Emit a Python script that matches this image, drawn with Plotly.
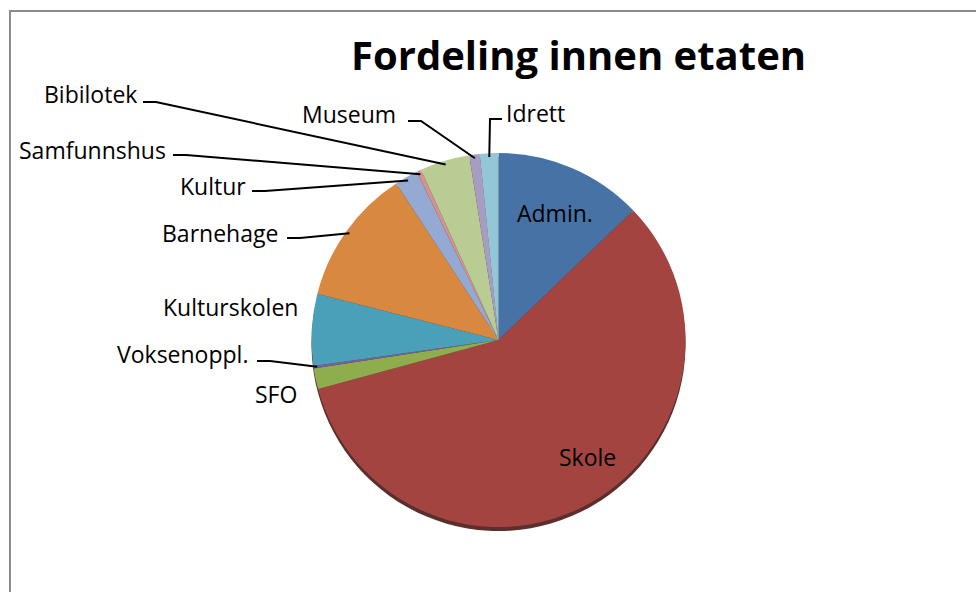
import math
import numpy as np
import plotly.graph_objects as go

# ---- data ----
labels = ["Admin.", "Skole", "SFO", "Voksenoppl.", "Kulturskolen", "Barnehage",
          "Kultur", "Samfunnshus", "Bibilotek", "Museum", "Idrett"]
values = [12.8, 57.9, 1.8, 0.2, 6.2, 11.8, 2.0, 0.4, 4.3, 0.9, 1.6]
colors = ["#4672a6", "#a44441", "#8eae4e", "#7a5f9e", "#4aa0b8", "#d98840",
          "#94aad2", "#d49290", "#b8cc94", "#a79dc3", "#93c6d6"]
title_text = "Fordeling innen etaten"

# ---- geometry (pixels) ----
W, H = 976, 592
CX, CY, R = 498.5, 340.0, 187.0


def to_paper(x, y):
    return x / W, 1 - y / H


dom_x = [(CX - R) / W, (CX + R) / W]
dom_y = [1 - (CY + R) / H, 1 - (CY - R) / H]
shadow_dy = 4.0
dom_y_sh = [dom_y[0] - shadow_dy / H, dom_y[1] - shadow_dy / H]

total = float(sum(values))
cum = np.cumsum(values) / total * 360.0
mid = cum - np.array(values) / total * 180.0
mid_angle = dict(zip(labels, mid))


def edge_point(name, f=0.98):
    th = math.radians(mid_angle[name])
    return CX + f * R * math.sin(th), CY - f * R * math.cos(th)


# label placement: (x, y, xanchor, leader elbow points or None)
label_layout = {
    "Bibilotek": (139, 94, "right", [(143, 102), (156, 102)]),
    "Samfunnshus": (168, 150, "right", [(173, 155), (186, 155)]),
    "Kultur": (248, 186, "right", [(252, 191), (265, 191)]),
    "Barnehage": (280, 233, "right", [(287, 238), (300, 238)]),
    "Museum": (398, 114, "right", [(408, 121), (421, 121)]),
    "Idrett": (504, 113, "left", [(502, 119), (490, 119)]),
    "Voksenoppl.": (250, 354, "right", [(257, 361), (270, 361)]),
    "Kulturskolen": (300, 307, "right", None),
    "SFO": (299, 394, "right", None),
    "Admin.": (515, 213, "left", None),
    "Skole": (557, 457, "left", None),
}

fig = go.Figure()

# soft shadow under the pie
fig.add_trace(go.Pie(
    labels=labels, values=values, sort=False, direction="clockwise", rotation=0,
    marker=dict(colors=["#4a1816"] * len(values), line=dict(width=0)),
    textinfo="none", hoverinfo="skip", showlegend=False,
    domain=dict(x=dom_x, y=dom_y_sh), opacity=0.9,
))

fig.add_trace(go.Pie(
    labels=labels, values=values, sort=False, direction="clockwise", rotation=0,
    marker=dict(colors=colors, line=dict(width=0)),
    textinfo="none", hoverinfo="label+percent", showlegend=False,
    domain=dict(x=dom_x, y=dom_y),
))

annotations = []
shapes = []
font = dict(family="Open Sans, Lato, sans-serif", size=23, color="#000000")
for name, (lx, ly, anc, elbow) in label_layout.items():
    px, py = to_paper(lx, ly)
    annotations.append(dict(x=px, y=py, xref="paper", yref="paper", text=name,
                            showarrow=False, xanchor=anc, yanchor="middle", font=font))
    if elbow:
        pts = list(elbow) + [edge_point(name)]
        path = "M " + " L ".join(f"{to_paper(x, y)[0]:.5f},{to_paper(x, y)[1]:.5f}" for x, y in pts)
        shapes.append(dict(type="path", path=path, xref="paper", yref="paper",
                           line=dict(color="#000000", width=2)))

# title
tx, ty = to_paper(578, 54)
annotations.append(dict(x=tx, y=ty, xref="paper", yref="paper", text=f"<b>{title_text}</b>",
                        showarrow=False, xanchor="center", yanchor="middle",
                        font=dict(family="Open Sans, Lato, sans-serif", size=40, color="#000000")))

# chart-area frame
fx0, fy0 = to_paper(10, 11)
fx1, fy1 = to_paper(990, 610)
shapes.append(dict(type="rect", x0=fx0, y0=fy1, x1=fx1, y1=fy0, xref="paper", yref="paper",
                   line=dict(color="#8a8a8a", width=2), fillcolor="rgba(0,0,0,0)", layer="below"))

fig.update_layout(
    width=W, height=H, margin=dict(l=0, r=0, t=0, b=0),
    paper_bgcolor="#ffffff", plot_bgcolor="#ffffff",
    showlegend=False, annotations=annotations, shapes=shapes,
)

fig.write_html("out.html", config={"displayModeBar": False},
               post_script="document.body.style.margin='0';document.body.style.overflow='hidden';")
